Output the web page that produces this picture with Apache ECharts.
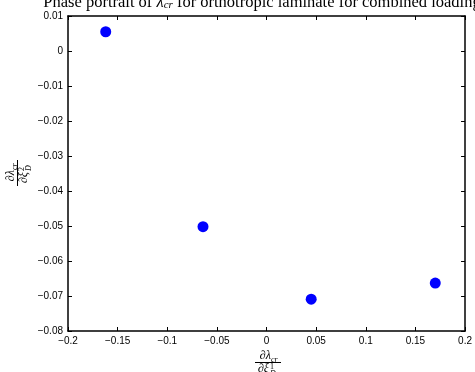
<!DOCTYPE html>
<html>
<head>
<meta charset="utf-8">
<script src="https://cdn.jsdelivr.net/npm/echarts@6/dist/echarts.min.js"></script>
<style>html,body{margin:0;padding:0;background:#fff}#c{width:475px;height:372px}</style>
</head>
<body>
<div id="c"></div>
<script>
// Data
const xValues = [-0.162, -0.064, 0.045, 0.170];
const yValues = [0.0055, -0.0502, -0.0709, -0.0663];
const xMin = -0.2, xMax = 0.2, xStep = 0.05;
const yMin = -0.08, yMax = 0.01, yStep = 0.01;
const xTickLabels = ['\u22120.2','\u22120.15','\u22120.1','\u22120.05','0','0.05','0.1','0.15','0.2'];
const yTickLabels = ['\u22120.08','\u22120.07','\u22120.06','\u22120.05','\u22120.04','\u22120.03','\u22120.02','\u22120.01','0','0.01'];
const titleText = 'Phase portrait of ';
const titleRest = ' for orthotropic laminate for combined loading';

const points = xValues.map((x, i) => [x, yValues[i]]);
const chart = echarts.init(document.getElementById('c'), null, {renderer: 'canvas'});

const labelFont = 'Liberation Sans';
const serif = 'Liberation Serif';

function fraction(pos, rot, supNum) {
  return {
    type: 'group', x: pos[0], y: pos[1], rotation: rot,
    children: [
      {type: 'text', x: 3, y: 0, style: {text: '\u2202\u03bb', font: 'italic 12px ' + serif, align: 'right', verticalAlign: 'bottom', fill: '#000'}},
      {type: 'text', x: 3, y: 2, style: {text: 'cr', font: 'italic 8px ' + serif, align: 'left', verticalAlign: 'bottom', fill: '#000'}},
      {type: 'line', shape: {x1: -13, y1: 0.5, x2: 13, y2: 0.5}, style: {stroke: '#000', lineWidth: 1}},
      {type: 'text', x: 1, y: 1, style: {text: '\u2202\u03be', font: 'italic 12px ' + serif, align: 'right', verticalAlign: 'top', fill: '#000'}},
      {type: 'text', x: 2, y: 1, style: {text: supNum, font: '8px ' + serif, align: 'left', verticalAlign: 'top', fill: '#000'}},
      {type: 'text', x: 2, y: 8, style: {text: 'D', font: 'italic 8px ' + serif, align: 'left', verticalAlign: 'top', fill: '#000'}}
    ]
  };
}

const axisCommon = {
  axisLine: {show: true, onZero: false, lineStyle: {color: '#000', width: 1.5}},
  axisTick: {show: true, inside: true, length: 4, lineStyle: {color: '#000', width: 1}},
  splitLine: {show: false}
};

chart.setOption({
  animation: false,
  backgroundColor: '#fff',
  grid: {left: 68, right: 7, top: 16, bottom: 41, containLabel: false},
  xAxis: [
    Object.assign({type: 'value', min: xMin, max: xMax, interval: xStep, position: 'bottom',
      axisLabel: {color: '#000', fontFamily: labelFont, fontSize: 10, margin: 5,
        formatter: v => xTickLabels[Math.round((v - xMin) / xStep)]}}, axisCommon),
    Object.assign({type: 'value', min: xMin, max: xMax, interval: xStep, position: 'top',
      axisLabel: {show: false}}, axisCommon)
  ],
  yAxis: [
    Object.assign({type: 'value', min: yMin, max: yMax, interval: yStep, position: 'left',
      axisLabel: {color: '#000', fontFamily: labelFont, fontSize: 10, margin: 5,
        formatter: v => yTickLabels[Math.round((v - yMin) / yStep)]}}, axisCommon),
    Object.assign({type: 'value', min: yMin, max: yMax, interval: yStep, position: 'right',
      axisLabel: {show: false}}, axisCommon)
  ],
  series: [{
    type: 'scatter', xAxisIndex: 0, yAxisIndex: 0,
    data: points, symbol: 'circle', symbolSize: 11,
    itemStyle: {color: '#0000ff', opacity: 1}
  }],
  graphic: [
    {type: 'text', x: 262, y: 11, style: {
      text: '{a|' + titleText + '}{i|\u03bb}{s|cr}{a|' + titleRest + '}',
      align: 'center', verticalAlign: 'bottom',
      rich: {
        a: {fontFamily: serif, fontSize: 16.5, color: '#000'},
        i: {fontFamily: serif, fontStyle: 'italic', fontSize: 16.5, color: '#000'},
        s: {fontFamily: serif, fontStyle: 'italic', fontSize: 11, color: '#000', verticalAlign: 'bottom'}
      }
    }},
    fraction([268, 362], 0, '1'),
    fraction([17, 173], Math.PI / 2, '2')
  ]
});
</script>
</body>
</html>
